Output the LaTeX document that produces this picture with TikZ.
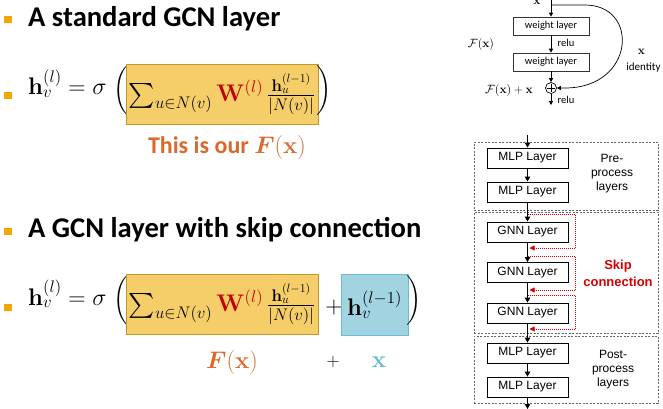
\RequirePackage{fix-cm}
\documentclass[tikz,border=0pt]{standalone}
\usepackage{amsmath,bm}
\usepackage[no-math]{fontspec}
\setmainfont{Carlito}
\newfontfamily\arialf{Liberation Sans}
\usetikzlibrary{arrows.meta}
\definecolor{bulc}{RGB}{240,168,0}
\definecolor{yfill}{RGB}{245,206,106}
\definecolor{ydraw}{RGB}{196,150,40}
\definecolor{bfill}{RGB}{162,211,225}
\definecolor{bdraw}{RGB}{105,188,210}
\definecolor{wred}{RGB}{192,0,0}
\definecolor{orng}{RGB}{217,105,45}
\definecolor{xblue}{RGB}{100,185,212}
\definecolor{skred}{RGB}{215,0,0}
\begin{document}
\begin{tikzpicture}[x=1pt,y=-1pt,
  bul/.style={fill=bulc, minimum width=8pt, minimum height=7pt, inner sep=0pt},
  ttl/.style={anchor=base west, inner sep=0pt, font=\fontsize{28.6}{32}\selectfont\bfseries},
  mth/.style={inner sep=0pt, font=\fontsize{24}{28}\selectfont},
  prn/.style={inner sep=0pt, font=\fontsize{22}{26}\selectfont},
  ybox/.style={fill=yfill, draw=ydraw, line width=0.8pt, minimum width=192pt, minimum height=60pt, inner sep=0pt, font=\fontsize{24}{28}\selectfont},
  bbox/.style={fill=bfill, draw=bdraw, line width=0.9pt, minimum width=67pt, minimum height=61pt, inner sep=0pt, font=\fontsize{24}{28}\selectfont},
  wl/.style={draw=black!80, line width=0.6pt, minimum width=76pt, minimum height=18pt, inner sep=0pt, font=\fontsize{10.5}{12}\selectfont},
  sm/.style={inner sep=0pt, font=\fontsize{10.5}{12}\selectfont},
  smm/.style={inner sep=0pt, font=\fontsize{12}{14}\selectfont},
  lay/.style={draw, line width=0.9pt, minimum width=81pt, minimum height=20pt, inner sep=0pt, font=\arialf\fontsize{12}{14}\selectfont},
  grp/.style={draw=black!60, dash pattern=on 2pt off 1.5pt, line width=0.6pt, minimum width=184pt, inner sep=0pt},
  grptxt/.style={inner sep=0pt, align=center, font=\arialf\fontsize{12}{14}\selectfont},
  arr/.style={-{Triangle[length=5pt,width=5.5pt]}, line width=0.9pt},
  tarr/.style={-{Triangle[length=4pt,width=4pt]}, line width=0.7pt},
  skp/.style={draw=skred, dash pattern=on 1pt off 1pt, line width=0.9pt, -{Triangle[length=5pt,width=5pt]}},
]
\useasboundingbox (0,0) rectangle (663,409);
\def\prnstrut{\vcenter{\hbox{\vrule height 24pt depth 24pt width 0pt}}}
\def\gcnsum{$\sum_{u\in N(v)} \textcolor{wred}{\mathbf{W}^{(l)}}\,\genfrac{}{}{1.6pt}{1}{\mathbf{h}_u^{(l-1)}}{|N(v)|}$}

% ---------- left: standard GCN layer ----------
\node[bul] (bu1) at (8,19.5) {};
\node[ttl] (t1) at (28,27) {A standard GCN layer};
\node[bul] (bu2) at (8,96) {};
\node[mth, anchor=base west] (l1) at (28,95) {$\mathbf{h}_v^{(l)} = \sigma$};
\node[prn] (lp1) at (121.5,90.5) {$\left(\prnstrut\right.$};
\node[ybox] (f1) at (222,94) {\gcnsum};
\node[prn] (rp1) at (323.5,90.5) {$\left.\prnstrut\right)$};
\node[mth, text=orng, font=\fontsize{24}{28}\selectfont\bfseries] (fx1) at (227,147) {This is our $\boldsymbol{F}(\mathbf{x})$};

% ---------- left: GCN with skip ----------
\node[bul] (bu3) at (8,231.5) {};
\node[ttl] (t2) at (28,237) {A GCN layer with skip connection};
\node[bul] (bu4) at (8,307) {};
\node[mth, anchor=base west] (l2) at (28,305) {$\mathbf{h}_v^{(l)} = \sigma$};
\node[prn] (lp2) at (121.5,300.5) {$\left(\prnstrut\right.$};
\node[ybox] (f2) at (222,304) {\gcnsum};
\node[mth] (pl1) at (334,307) {$+$};
\node[bbox] (x2) at (374.5,304.5) {$\mathbf{h}_v^{(l-1)}$};
\node[prn] (rp2) at (413.5,300.5) {$\left.\prnstrut\right)$};
\node[mth, text=orng] (fx2) at (232,362) {$\boldsymbol{F}(\mathbf{x})$};
\node[inner sep=0pt, font=\fontsize{18}{20}\selectfont] (pl2) at (333,362) {$+$};
\node[mth, text=xblue] (xl) at (379,362) {$\mathbf{x}$};

% ---------- right top: residual block ----------
\coordinate (rtop) at (551,0);
\coordinate (cst) at (551,5);
\coordinate (rout) at (551,105);
\node[wl] (w1) at (551,26) {weight layer};
\node[wl] (w2) at (551,62) {weight layer};
\node[circle, draw, line width=0.7pt, minimum size=11pt, inner sep=0pt] (plus) at (551,88) {};
\draw[line width=0.6pt] ([yshift=3.6pt]plus.center) -- ([yshift=-3.6pt]plus.center)
  ([xshift=-3.6pt]plus.center) -- ([xshift=3.6pt]plus.center);
\draw[tarr] (rtop) -- (w1);
\draw[tarr] (w1) -- (w2);
\draw[tarr] (w2) -- (plus);
\draw[tarr] (plus) -- (rout);
\draw[tarr] (cst) -- (585,5) .. controls (640,5) and (635,88) .. (565,88) -- (plus.east);
\node[sm] (relu1) at (566,43) {relu};
\node[sm] (relu2) at (566,100) {relu};
\node[smm] (fx) at (481,45) {$\mathcal{F}(\mathbf{x})$};
\node[smm, anchor=east] (fxx) at (533,91) {$\mathcal{F}(\mathbf{x})+\mathbf{x}$};
\node[smm] (xt) at (537,2) {$\mathbf{x}$};
\node[smm] (xid) at (641.5,52) {$\mathbf{x}$};
\node[inner sep=0pt, font=\fontsize{11}{13}\selectfont] (idt) at (643.5,68) {identity};

% ---------- right bottom: architecture ----------
\node[grp, minimum height=68pt] (gr1) at (566,176) {};
\node[grp, minimum height=121pt] (gr2) at (566,272.5) {};
\node[grp, minimum height=67pt] (gr3) at (566,369.5) {};
\node[lay] (m1) at (527.5,158) {MLP Layer};
\node[lay] (m2) at (527.5,192) {MLP Layer};
\node[lay] (n1) at (527.5,232) {GNN Layer};
\node[lay] (n2) at (527.5,272.5) {GNN Layer};
\node[lay] (n3) at (527.5,313) {GNN Layer};
\node[lay] (m3) at (527.5,353) {MLP Layer};
\node[lay] (m4) at (527.5,387) {MLP Layer};
\coordinate (in2) at (527.5,135);
\coordinate (out2) at (527.5,409);
\coordinate (s1a) at (527.5,214); \coordinate (s1b) at (529.5,248);
\coordinate (s2a) at (527.5,256); \coordinate (s2b) at (529.5,290);
\coordinate (s3a) at (527.5,295); \coordinate (s3b) at (529.5,329);
\draw[skp] (s1a) -- ++(47.5,0) |- (s1b);
\draw[skp] (s2a) -- ++(47.5,0) |- (s2b);
\draw[skp] (s3a) -- ++(47.5,0) |- (s3b);
\draw[arr] (in2) -- (m1);
\draw[arr] (m1) -- (m2);
\draw[arr] (m2) -- (n1);
\draw[arr] (n1) -- (n2);
\draw[arr] (n2) -- (n3);
\draw[arr] (n3) -- (m3);
\draw[arr] (m3) -- (m4);
\draw[arr] (m4) -- (out2);
\node[grptxt] (pre) at (612,174) {Pre-\\process\\layers};
\node[grptxt] (post) at (613,370) {Post-\\process\\layers};
\node[grptxt, text=skred, font=\arialf\bfseries\fontsize{13}{17}\selectfont] (skt) at (618,273.5) {Skip\\connection};
\end{tikzpicture}
\end{document}
